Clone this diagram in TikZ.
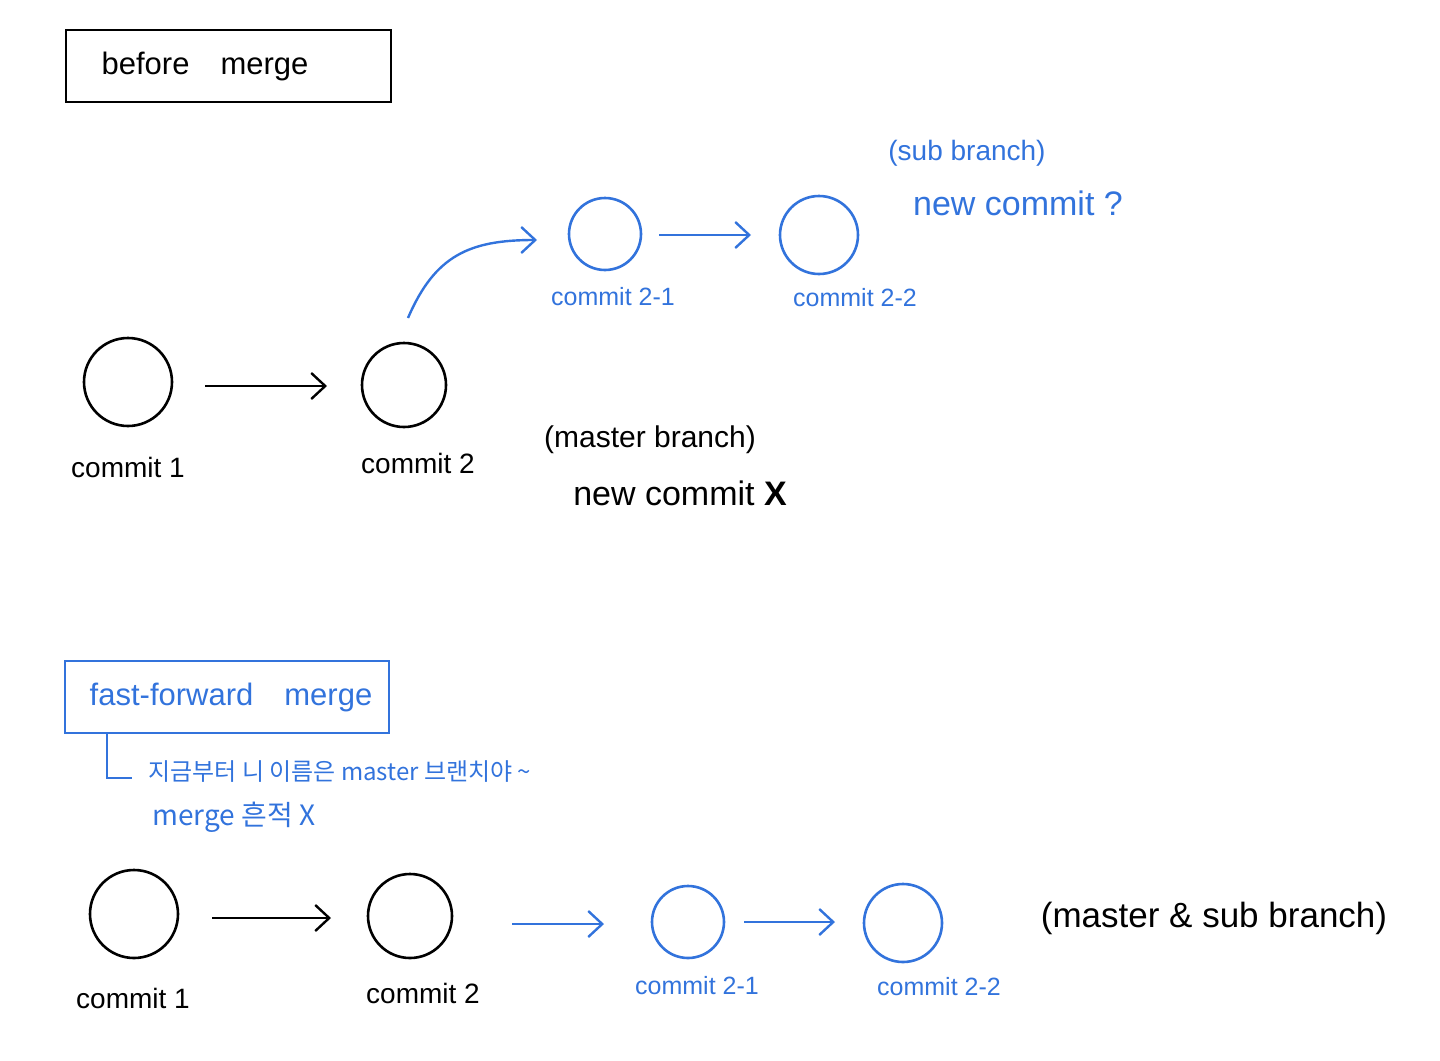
\documentclass[tikz,border=0pt]{standalone}
\usepackage{fontspec}
\setmainfont{Liberation Sans}
\newfontfamily\cjk{Noto Sans CJK KR}
\usetikzlibrary{arrows.meta}
\definecolor{pen}{RGB}{50,115,220}
\begin{document}
\begin{tikzpicture}[x=0.5pt,y=-0.5pt,
  commit/.style={draw=#1,line width=1.3pt,circle,inner sep=0pt},
  link/.style={draw=#1,line width=1.2pt,-{Straight Barb[length=7pt,width=13pt]}},
  tag/.style={text=#1,font=\fontsize{14}{17}\selectfont,inner sep=1pt},
  frame/.style={draw=#1,line width=1.2pt,font=\fontsize{15.5}{18}\selectfont,text=#1}]
\useasboundingbox (0,0) rectangle (1440,1060);
% before merge
\draw[frame=black] (66,30) rectangle (391,102);
\node[frame=black,draw=none] (before) at (205,66) {before\quad merge};
\node[commit=black,minimum size=88pt/2] (a1) at (128,382) {};
\node[commit=black,minimum size=84pt/2] (a2) at (404,385) {};
\node[commit=pen,minimum size=72pt/2] (a3) at (605,234) {};
\node[commit=pen,minimum size=78pt/2] (a4) at (819,235) {};
\node[tag=black] (la1) at (128,467) {commit 1};
\node[tag=black] (la2) at (418,463) {commit 2};
\node[tag=pen,font=\fontsize{12.5}{15}\selectfont] (la3) at (613,297) {commit 2-1};
\node[tag=pen,font=\fontsize{12.5}{15}\selectfont] (la4) at (855,298) {commit 2-2};
\coordinate (s1) at (205,386);
\coordinate (e1) at (327,386);
\draw[link=black] (s1) -- (e1);
\coordinate (s2) at (408,318);
\coordinate (e2) at (537,240);
\draw[link=pen] (s2) .. controls (435,255) and (470,240) .. (e2);
\coordinate (s3) at (659,235);
\coordinate (e3) at (751,235);
\draw[link=pen] (s3) -- (e3);
\node[tag=pen] (subb) at (967,153) {(sub branch)};
\node[tag=pen,font=\fontsize{17}{20}\selectfont] (subn) at (1018,203) {new commit ?};
\node[tag=black,font=\fontsize{15}{18}\selectfont] (mas) at (650,440) {(master branch)};
\node[tag=black,font=\fontsize{17}{20}\selectfont] (masn) at (680,493) {new commit \textbf{X}};
% fast-forward merge
\draw[frame=pen] (65,661) rectangle (389,733);
\node[frame=pen,draw=none] (ff) at (231,697) {fast-forward\quad merge};
\coordinate (k1) at (107,733);
\coordinate (k2) at (132,778);
\draw[pen,line width=1.2pt] (k1) |- (k2);
\node[tag=pen,anchor=west,font=\cjk\fontsize{12}{14}\selectfont] (note1) at (146,772) {지금부터 니 이름은 master 브랜치야 \textasciitilde};
\node[tag=pen,anchor=west,font=\cjk\fontsize{14}{16}\selectfont] (note2) at (150,817) {merge 흔적 X};
\node[commit=black,minimum size=88pt/2] (b1) at (134,914) {};
\node[commit=black,minimum size=84pt/2] (b2) at (410,916) {};
\node[commit=pen,minimum size=72pt/2] (b3) at (688,922) {};
\node[commit=pen,minimum size=78pt/2] (b4) at (903,923) {};
\node[tag=black] (lb1) at (133,998) {commit 1};
\node[tag=black] (lb2) at (423,993) {commit 2};
\node[tag=pen,font=\fontsize{12.5}{15}\selectfont] (lb3) at (697,986) {commit 2-1};
\node[tag=pen,font=\fontsize{12.5}{15}\selectfont] (lb4) at (939,987) {commit 2-2};
\coordinate (t1) at (212,918);
\coordinate (u1) at (331,918);
\draw[link=black] (t1) -- (u1);
\coordinate (t2) at (512,924);
\coordinate (u2) at (604,924);
\draw[link=pen] (t2) -- (u2);
\coordinate (t3) at (744,922);
\coordinate (u3) at (835,922);
\draw[link=pen] (t3) -- (u3);
\node[tag=black,font=\fontsize{17.5}{20}\selectfont] (both) at (1214,918) {(master \& sub branch)};
\end{tikzpicture}
\end{document}
